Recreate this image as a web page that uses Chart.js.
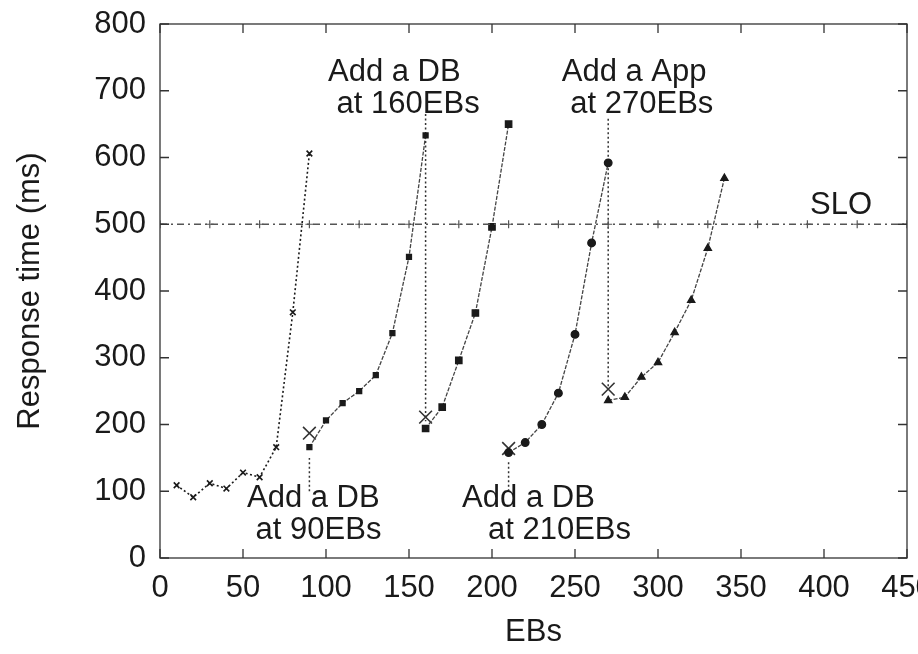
<!DOCTYPE html>
<html><head><meta charset="utf-8">
<script src="https://cdn.jsdelivr.net/npm/chart.js@4/dist/chart.umd.min.js"></script>
<style>html,body{margin:0;padding:0;background:#fff}#wrap{width:918px;height:654px}</style>
</head><body><div id="wrap"><canvas id="c" width="918" height="654"></canvas></div>
<script>
// ---- data ----
const xTickValues = [0, 50, 100, 150, 200, 250, 300, 350, 400, 450];
const yTickValues = [0, 100, 200, 300, 400, 500, 600, 700, 800];

const eb1 = [10, 20, 30, 40, 50, 60, 70, 80, 90];
const rt1 = [109, 91, 112, 104, 128, 121, 166, 368, 606];

const eb2 = [90, 100, 110, 120, 130, 140, 150, 160];
const rt2 = [166, 206, 232, 250, 274, 337, 451, 633];

const eb3 = [160, 170, 180, 190, 200, 210];
const rt3 = [194, 226, 296, 367, 496, 650];

const eb4 = [210, 220, 230, 240, 250, 260, 270];
const rt4 = [158, 173, 200, 247, 335, 472, 592];

const eb5 = [270, 280, 290, 300, 310, 320, 330, 340];
const rt5 = [236, 241, 271, 293, 338, 386, 464, 569];

const addEB = [90, 160, 210, 270];
const addRT = [187, 211, 164, 253];
const arrowFrom = [100, 665, 100, 658];
const arrowTo = [150, 205, 145, 255];

const sloEB = [0, 30, 60, 90, 120, 150, 180, 210, 240, 270, 300, 330, 360, 390, 420, 450];
const SLO = 500;

const annLines = [
  ["Add a DB", " at 90EBs"],
  ["Add a DB", " at 160EBs"],
  ["Add a DB", "   at 210EBs"],
  ["Add a App", " at 270EBs"],
  ["SLO"]
];
const annEB = [52.4, 101.2, 182, 242, 391.6];
const annRT = [89, 728, 89, 728, 528];

// ---- build ----
const pts = (xs, ys) => xs.map((x, i) => ({x: x, y: ys[i]}));
const FONT = "'Liberation Sans', Arial, Helvetica, sans-serif";
const INK = '#1a1a1a';

const datasets = [
  {data: sloEB.map(x => ({x: x, y: SLO})), borderColor: '#555', borderWidth: 1.3,
   borderDash: [7, 4, 2, 4], pointStyle: 'cross', pointRadius: 4, pointBorderWidth: 1.2,
   pointBorderColor: '#555', pointBackgroundColor: '#555'},
  {data: pts(eb1, rt1), borderColor: INK, borderWidth: 1.6, borderDash: [2, 2.5],
   pointStyle: 'crossRot', pointRadius: 4, pointBorderWidth: 1.6, pointBorderColor: INK},
  {data: pts(eb2, rt2), borderColor: '#444', borderWidth: 1.3, borderDash: [4, 1.5],
   pointStyle: 'rect', pointRadius: 3.5, pointBackgroundColor: INK, pointBorderColor: INK},
  {data: pts(eb3, rt3), borderColor: '#444', borderWidth: 1.3, borderDash: [4, 1.5],
   pointStyle: 'rect', pointRadius: 4.5, pointBackgroundColor: INK, pointBorderColor: INK},
  {data: pts(eb4, rt4), borderColor: '#444', borderWidth: 1.3, borderDash: [4, 1.5],
   pointStyle: 'circle', pointRadius: 3.8, pointBackgroundColor: INK, pointBorderColor: INK},
  {data: pts(eb5, rt5), borderColor: '#444', borderWidth: 1.3, borderDash: [4, 1.5],
   pointStyle: 'triangle', pointRadius: 4.2, pointBackgroundColor: INK, pointBorderColor: INK},
  {data: pts(addEB, addRT), showLine: false, pointStyle: 'crossRot', pointRadius: 9,
   pointBorderWidth: 1.6, pointBorderColor: '#333'}
];
addEB.forEach((x, i) => {
  datasets.push({data: [{x: x, y: arrowFrom[i]}, {x: x, y: arrowTo[i]}],
    borderColor: '#333', borderWidth: 1.5, borderDash: [2, 2.5], pointRadius: 0});
});

const framePlugin = {
  id: 'frame',
  afterDatasetsDraw(chart) {
    const {ctx, chartArea: a, scales: {x, y}} = chart;
    ctx.save();
    ctx.strokeStyle = '#333';
    ctx.lineWidth = 1.3;
    ctx.strokeRect(a.left, a.top, a.right - a.left, a.bottom - a.top);
    const L = 9;
    ctx.beginPath();
    xTickValues.forEach(v => {
      const px = x.getPixelForValue(v);
      ctx.moveTo(px, a.bottom); ctx.lineTo(px, a.bottom - L);
      ctx.moveTo(px, a.top); ctx.lineTo(px, a.top + L);
    });
    yTickValues.forEach(v => {
      const py = y.getPixelForValue(v);
      ctx.moveTo(a.left, py); ctx.lineTo(a.left + L, py);
      ctx.moveTo(a.right, py); ctx.lineTo(a.right - L, py);
    });
    ctx.stroke();
    ctx.restore();
  },
  afterDraw(chart) {
    const {ctx, scales: {x, y}} = chart;
    ctx.save();
    ctx.fillStyle = INK;
    ctx.font = '31px ' + FONT;
    ctx.textAlign = 'left';
    ctx.textBaseline = 'middle';
    annLines.forEach((lines, i) => {
      const px = x.getPixelForValue(annEB[i]);
      const py = y.getPixelForValue(annRT[i]);
      lines.forEach((t, j) => ctx.fillText(t, px, py + j * 32));
    });
    ctx.restore();
  }
};

new Chart(document.getElementById('c'), {
  type: 'scatter',
  data: {datasets: datasets},
  options: {
    responsive: false,
    animation: false,
    devicePixelRatio: 1,
    showLine: true,
    layout: {padding: {left: 0, top: 24, right: 11, bottom: 0}},
    plugins: {legend: {display: false}, tooltip: {enabled: false}},
    scales: {
      x: {
        type: 'linear', min: 0, max: 450,
        afterBuildTicks: s => { s.ticks = xTickValues.map(v => ({value: v})); },
        grid: {display: false, drawTicks: false},
        border: {display: false},
        ticks: {color: INK, font: {family: FONT, size: 31}, padding: 12, maxRotation: 0, autoSkip: false},
        title: {display: true, text: 'EBs', color: INK, font: {family: FONT, size: 31}, padding: {top: 0, bottom: 3}},
        afterFit: s => { s.height = 96; s.paddingLeft = 0; s.paddingRight = 0; }
      },
      y: {
        type: 'linear', min: 0, max: 800,
        afterBuildTicks: s => { s.ticks = yTickValues.map(v => ({value: v})); },
        grid: {display: false, drawTicks: false},
        border: {display: false},
        ticks: {color: INK, font: {family: FONT, size: 31}, padding: 14},
        title: {display: true, text: 'Response time (ms)', color: INK, font: {family: FONT, size: 31}, padding: {top: 12, bottom: 0}},
        afterFit: s => { s.width = 160; s.paddingTop = 0; s.paddingBottom = 0; }
      }
    }
  },
  plugins: [framePlugin]
});
</script>
</body></html>
